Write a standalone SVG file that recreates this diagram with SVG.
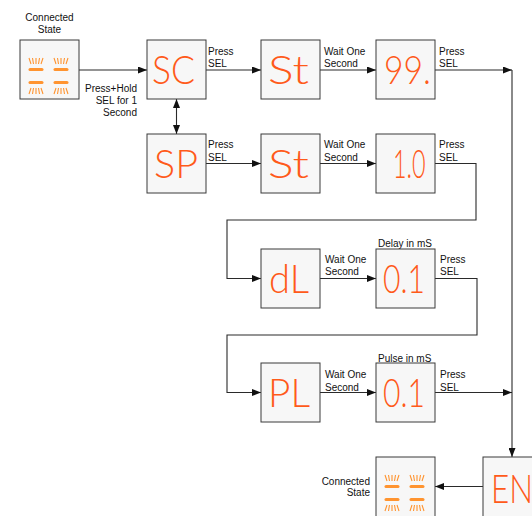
<svg xmlns="http://www.w3.org/2000/svg" xmlns:xlink="http://www.w3.org/1999/xlink" width="532" height="516" viewBox="0 0 532 516">
  <style>
    .box { fill: #f7f7f7; stroke: #3a3a3a; stroke-width: 1; }
    .lbl { font-family: "Liberation Sans", Arial, sans-serif; font-size: 10px; fill: #111; }
    .end { text-anchor: end; }
    .mid { text-anchor: middle; }
    .seg { font-family: Lato, Inter, "Liberation Sans", sans-serif; font-weight: 300; font-size: 39px; fill: #ff5a1a; }
    .conn { fill: none; stroke: #2a2a2a; stroke-width: 1.1; }
    .bar { stroke: #ff9430; stroke-width: 3; stroke-linecap: round; fill: none; }
    .ray { stroke: #ff9430; stroke-width: 1.1; fill: none; }
  </style>
  <defs>
    <marker id="ah" markerWidth="9" markerHeight="7" refX="9" refY="3.5" orient="auto-start-reverse" markerUnits="userSpaceOnUse">
      <path d="M0,0 L9,3.5 L0,7 z" fill="#111"/>
    </marker>
    <g id="blink">
      <g id="half">
        <line class="bar" x1="10" y1="29.5" x2="22" y2="29.5"/>
        <line class="bar" x1="10" y1="42.5" x2="22" y2="42.5"/>
        <path class="ray" d="M9,18 L11,24 M12.5,18 L13.5,24 M16,18 L16,24 M19.5,18 L18.5,24 M23,18 L21,24"/>
        <path class="ray" d="M11,48 L9,54 M13.5,48 L12.5,54 M16,48 L16,54 M18.5,48 L19.5,54 M21,48 L23,54"/>
      </g>
      <use xlink:href="#half" href="#half" x="25" y="0"/>
    </g>
  </defs>

  <g id="connectors">
    <path class="conn" d="M79,70 H147" marker-end="url(#ah)"/>
    <path class="conn" d="M176.5,99 V134" marker-start="url(#ah)" marker-end="url(#ah)"/>
    <path class="conn" d="M206,70 H261" marker-end="url(#ah)"/>
    <path class="conn" d="M320,70 H376" marker-end="url(#ah)"/>
    <path class="conn" d="M435,70 H512" marker-end="url(#ah)"/>
    <path class="conn" d="M512,70 V457" marker-end="url(#ah)"/>
    <path class="conn" d="M206,163.5 H261" marker-end="url(#ah)"/>
    <path class="conn" d="M320,163.5 H376" marker-end="url(#ah)"/>
    <path class="conn" d="M435,163.5 H476 V220 H227 V278.5 H261" marker-end="url(#ah)"/>
    <path class="conn" d="M320,278.5 H376" marker-end="url(#ah)"/>
    <path class="conn" d="M435,278.5 H477 V335 H227 V392.5 H261" marker-end="url(#ah)"/>
    <path class="conn" d="M320,392.5 H376" marker-end="url(#ah)"/>
    <path class="conn" d="M435,392.5 H512" marker-end="url(#ah)"/>
    <path class="conn" d="M483,486.5 H435" marker-end="url(#ah)"/>
  </g>

  <g id="connected-top">
    <text class="lbl mid" x="49.5" y="20.5">Connected</text>
    <text class="lbl mid" x="49.5" y="32.5">State</text>
    <rect class="box" x="20" y="40" width="59" height="59"/>
    <use xlink:href="#blink" href="#blink" x="20" y="40"/>
  </g>

  <g id="sc">
    <rect class="box" x="147" y="40" width="59" height="59"/>
    <text class="seg" x="152" y="84" textLength="43" lengthAdjust="spacingAndGlyphs">SC</text>
  </g>
  <g id="st1">
    <rect class="box" x="261" y="40" width="59" height="59"/>
    <text class="seg" x="268" y="84" textLength="41" lengthAdjust="spacingAndGlyphs">St</text>
  </g>
  <g id="n99">
    <rect class="box" x="376" y="40" width="59" height="59"/>
    <text class="seg" x="384" y="84" textLength="47" lengthAdjust="spacingAndGlyphs">99.</text>
  </g>

  <g id="sp">
    <rect class="box" x="147" y="134" width="59" height="59"/>
    <text class="seg" x="154" y="178" textLength="44" lengthAdjust="spacingAndGlyphs">SP</text>
  </g>
  <g id="st2">
    <rect class="box" x="261" y="134" width="59" height="59"/>
    <text class="seg" x="268" y="178" textLength="41" lengthAdjust="spacingAndGlyphs">St</text>
  </g>
  <g id="n10">
    <rect class="box" x="376" y="134" width="59" height="59"/>
    <text class="seg" transform="translate(393,178) scale(0.6,1)" x="0" y="0">1.0</text>
  </g>

  <g id="dl">
    <rect class="box" x="261" y="249" width="59" height="59"/>
    <text class="seg" x="269" y="293" textLength="40" lengthAdjust="spacingAndGlyphs">dL</text>
  </g>
  <g id="delay">
    <text class="lbl" x="378" y="246.5">Delay in mS</text>
    <rect class="box" x="376" y="249" width="59" height="59"/>
    <text class="seg" x="383" y="293" textLength="42" lengthAdjust="spacingAndGlyphs">0.1</text>
  </g>

  <g id="pl">
    <rect class="box" x="261" y="363" width="59" height="59"/>
    <text class="seg" x="268" y="407" textLength="42" lengthAdjust="spacingAndGlyphs">PL</text>
  </g>
  <g id="pulse">
    <text class="lbl" x="378" y="361.5">Pulse in mS</text>
    <rect class="box" x="376" y="363" width="59" height="59"/>
    <text class="seg" x="383" y="407" textLength="42" lengthAdjust="spacingAndGlyphs">0.1</text>
  </g>

  <g id="en">
    <rect class="box" x="483" y="457" width="60" height="60"/>
    <text class="seg" x="491" y="503" textLength="42" lengthAdjust="spacingAndGlyphs">EN</text>
  </g>

  <g id="connected-bottom">
    <text class="lbl end" x="370" y="484.5">Connected</text>
    <text class="lbl end" x="370" y="496">State</text>
    <rect class="box" x="376" y="457" width="59" height="60"/>
    <use xlink:href="#blink" href="#blink" x="376" y="457"/>
  </g>

  <g id="labels">
    <text class="lbl end" x="137" y="91.5">Press+Hold</text>
    <text class="lbl end" x="137" y="103.5">SEL for 1</text>
    <text class="lbl end" x="137" y="116">Second</text>

    <text class="lbl" x="208" y="54.5">Press</text>
    <text class="lbl" x="208" y="66.5">SEL</text>
    <text class="lbl" x="324" y="54.5">Wait One</text>
    <text class="lbl" x="324" y="66.5">Second</text>
    <text class="lbl" x="439" y="54.5">Press</text>
    <text class="lbl" x="439" y="66.5">SEL</text>

    <text class="lbl" x="208" y="148">Press</text>
    <text class="lbl" x="208" y="160.5">SEL</text>
    <text class="lbl" x="324" y="148">Wait One</text>
    <text class="lbl" x="324" y="160.5">Second</text>
    <text class="lbl" x="439" y="148">Press</text>
    <text class="lbl" x="439" y="160.5">SEL</text>

    <text class="lbl" x="325" y="262.5">Wait One</text>
    <text class="lbl" x="325" y="275">Second</text>
    <text class="lbl" x="440" y="262.5">Press</text>
    <text class="lbl" x="440" y="275">SEL</text>

    <text class="lbl" x="325" y="377.5">Wait One</text>
    <text class="lbl" x="325" y="390.5">Second</text>
    <text class="lbl" x="440" y="377.5">Press</text>
    <text class="lbl" x="440" y="390.5">SEL</text>
  </g>
</svg>
